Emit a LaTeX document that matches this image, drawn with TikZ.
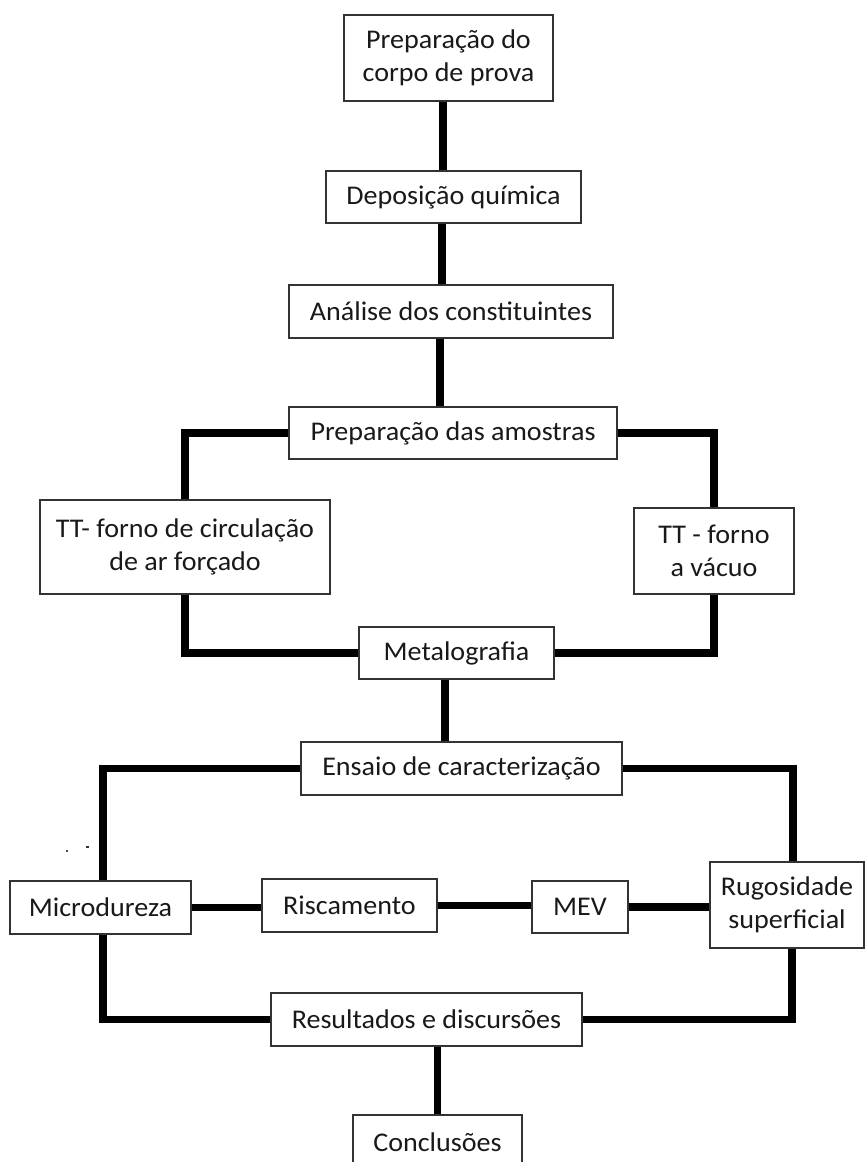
\documentclass[tikz,border=0pt]{standalone}
\usepackage{fontspec}
\setmainfont{Carlito}[FakeStretch=1.04]
\usetikzlibrary{calc}
\begin{document}
\begin{tikzpicture}[x=1pt,y=-1pt,
  stepbox/.style={draw=black!80, line width=1.3pt, fill=white, inner sep=0pt,
    align=center, font=\fontsize{27}{33}\selectfont, text=black!90},
  link/.style={line width=7.5pt, black, line join=miter}]
\useasboundingbox (0,0) rectangle (865,1162);
\clip (0,0) rectangle (865,1162);

% process steps
\node[stepbox, minimum width=209pt, minimum height=86pt] (corpo) at (448.5,58) {Preparação do\\corpo de prova};
\node[stepbox, minimum width=255pt, minimum height=52pt] (depo) at (453.5,197) {Deposição química};
\node[stepbox, minimum width=324pt, minimum height=53pt] (anal) at (451,311.5) {Análise dos constituintes};
\node[stepbox, minimum width=328pt, minimum height=52pt] (prep) at (453,433) {Preparação das amostras};
\node[stepbox, minimum width=290pt, minimum height=94pt] (forno1) at (185,547) {TT- forno de circulação\\de ar forçado};
\node[stepbox, minimum width=160pt, minimum height=86pt] (forno2) at (714,551) {TT - forno\\a vácuo};
\node[stepbox, minimum width=195pt, minimum height=52pt] (metal) at (456.5,653) {Metalografia};
\node[stepbox, minimum width=321pt, minimum height=53pt] (ensaio) at (461.5,768.5) {Ensaio de caracterização};
\node[stepbox, minimum width=181pt, minimum height=53pt] (micro) at (100.5,907.5) {Microdureza};
\node[stepbox, minimum width=175pt, minimum height=53pt] (risc) at (349.5,905.5) {Riscamento};
\node[stepbox, minimum width=96pt, minimum height=52pt] (mev) at (580,907) {MEV};
\node[stepbox, minimum width=154pt, minimum height=86pt] (rugo) at (787,905) {Rugosidade\\superficial};
\node[stepbox, minimum width=311pt, minimum height=53pt] (result) at (426.5,1019.5) {Resultados e discursões};
\node[stepbox, minimum width=169pt, minimum height=54pt] (concl) at (437.5,1142) {Conclusões};

% connectors
\draw[link] ([xshift=-5.5pt]corpo.south) -- ([xshift=-5.5pt]corpo.south |- depo.north);
\draw[link] ([xshift=-11.5pt]depo.south) -- ([xshift=-11.5pt]depo.south |- anal.north);
\draw[link] ([xshift=-11pt]anal.south) -- ([xshift=-11pt]anal.south |- prep.north);
\draw[link] (prep.west) -| (forno1.north);
\draw[link] (prep.east) -| (forno2.north);
\draw[link] (forno1.south) |- (metal.west);
\draw[link] (forno2.south) |- (metal.east);
\draw[link] ([xshift=-11.5pt]metal.south) -- ([xshift=-11.5pt]metal.south |- ensaio.north);
\draw[link] (ensaio.west) -| ([xshift=2.5pt]micro.north);
\draw[link] (ensaio.east) -| ([xshift=6pt]rugo.north);
\draw[link] (micro.east) -- (micro.east -| risc.west);
\draw[link] (risc.east) -- (risc.east -| mev.west);
\draw[link] (mev.east) -- (mev.east -| rugo.west);
\draw[link] ([xshift=2.5pt]micro.south) |- (result.west);
\draw[link] (result.east) -| ([xshift=5pt]rugo.south);
\draw[link] (concl.north) -- (concl.north |- result.south);

% stray specks
\fill[black!70] (66,850) rectangle (68,852);
\fill[black!80] (86,846) rectangle (89,848);
\end{tikzpicture}
\end{document}
